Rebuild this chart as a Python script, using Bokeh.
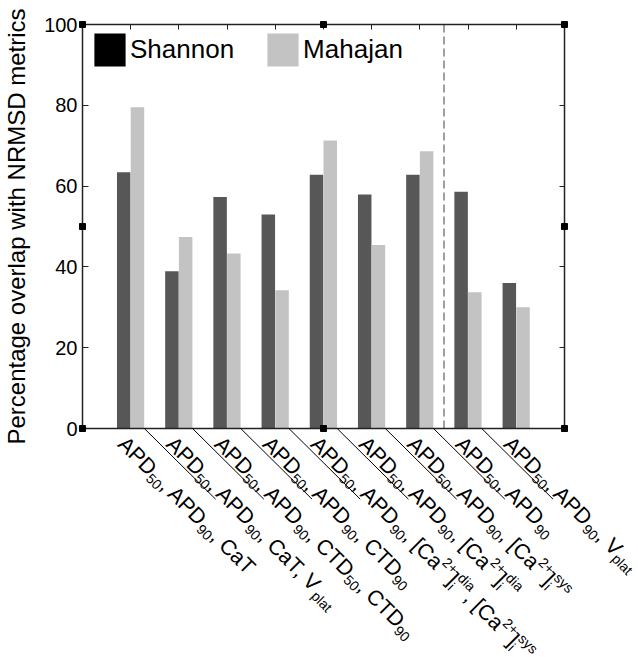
import math
from bokeh.plotting import figure
from bokeh.models import (Range1d, LinearAxis, FixedTicker, Legend, LegendItem,
                          ColumnDataSource, CustomJSTickFormatter)
from bokeh.embed import file_html
from bokeh.resources import INLINE
from bokeh.core.properties import value

# ---------------- data ----------------
categories = [
    "APD_{50}, APD_{90}, CaT",
    "APD_{50}, APD_{90}, CaT, V_{plat}",
    "APD_{50}, APD_{90}, CTD_{50}, CTD_{90}",
    "APD_{50}, APD_{90}, CTD_{90}",
    "APD_{50}, APD_{90}, [Ca^{2+}]_{i}^{dia}, [Ca^{2+}]_{i}^{sys}",
    "APD_{50}, APD_{90}, [Ca^{2+}]_{i}^{dia}",
    "APD_{50}, APD_{90}, [Ca^{2+}]_{i}^{sys}",
    "APD_{50}, APD_{90}",
    "APD_{50}, APD_{90}, V_{plat}",
]
shannon = [63.4, 38.9, 57.3, 53.0, 62.8, 57.9, 62.8, 58.6, 36.0]
mahajan = [79.5, 47.4, 43.3, 34.2, 71.3, 45.4, 68.6, 33.7, 30.0]
series_names = ["Shannon", "Mahajan"]
y_ticks = [0, 20, 40, 60, 80, 100]
divider = 7.5  # dashed separator between groups 7 and 8

# ---------------- layout ----------------
W, H = 638, 657
BL, BR, BT = 80, 74, 24
AXIS_Y = 428                # screen y of value 0
BB = H - AXIS_Y
FW = W - BL - BR
PX_Y = (AXIS_Y - BT) / 100.0
X_MAX = len(categories) + 1
PX_X = FW / X_MAX

FONT = "Liberation Sans"
DARK, LIGHT, LEG_DARK = "#575757", "#c3c3c3", "#000000"
AX = "#222222"

xs = list(range(1, len(categories) + 1))

p = figure(width=W, height=H, x_range=Range1d(0, X_MAX), y_range=Range1d(0, 100),
           output_backend="svg", toolbar_location=None, tools="",
           x_axis_location=None, y_axis_location=None,
           min_border_left=BL, min_border_right=BR, min_border_top=BT, min_border_bottom=BB)
p.outline_line_color = None
p.xgrid.visible = False
p.ygrid.visible = False
p.background_fill_color = "white"
p.border_fill_color = "white"

blank = CustomJSTickFormatter(code="return ''")


def style_axis(ax, tick_in):
    ax.major_tick_in = tick_in
    ax.major_tick_out = 0
    ax.minor_tick_line_color = None
    ax.axis_line_width = 1.5
    ax.axis_line_color = AX
    ax.major_tick_line_color = AX


# left axis
ly = LinearAxis(ticker=FixedTicker(ticks=y_ticks, minor_ticks=[]),
                axis_label="Percentage overlap with NRMSD metrics")
style_axis(ly, 6)
ly.major_label_standoff = 5
ly.major_label_text_font = FONT
ly.major_label_text_font_size = "20px"
ly.major_label_text_color = "black"
ly.axis_label_text_font = FONT
ly.axis_label_text_font_size = "24px"
ly.axis_label_text_font_style = "normal"
ly.axis_label_text_color = "black"
ly.axis_label_standoff = 11
p.add_layout(ly, "left")

# right axis
ry = LinearAxis(ticker=FixedTicker(ticks=y_ticks, minor_ticks=[]), formatter=blank)
style_axis(ry, 5)
ry.major_label_standoff = 0
p.add_layout(ry, "right")

# top axis
tx = LinearAxis(ticker=FixedTicker(ticks=xs, minor_ticks=[]), formatter=blank)
style_axis(tx, 5)
tx.major_label_standoff = 0
p.add_layout(tx, "above")

# bottom axis (line only)
bx = LinearAxis(ticker=FixedTicker(ticks=[], minor_ticks=[]), formatter=blank)
style_axis(bx, 0)
bx.major_label_standoff = 0
p.add_layout(bx, "below")

# bars
bw = 0.28
r_sh = p.vbar(x=[x - 0.145 for x in xs], top=shannon, width=bw, fill_color=DARK, line_color=None)
r_ma = p.vbar(x=[x + 0.14 for x in xs], top=mahajan, width=bw, fill_color=LIGHT, line_color=None)
# zero-height proxy used only for the (black) legend swatch
r_leg = p.vbar(x=[xs[0]], top=[0], bottom=[0], width=bw, fill_color=LEG_DARK, line_color=None)

# dashed divider
p.segment(x0=[divider], y0=[0], x1=[divider], y1=[100], line_color="#808080",
          line_width=1.5, line_dash="8 4")

# corner / midpoint markers of the axes box
mk_x = [0, 0, 0, X_MAX / 2, X_MAX / 2, X_MAX, X_MAX, X_MAX]
mk_y = [0, 50, 100, 0, 100, 0, 50, 100]
p.scatter(x=mk_x, y=mk_y, marker="square", size=6, color="black", level="overlay")

# legend
legend = Legend(items=[LegendItem(label=series_names[0], renderers=[r_leg]),
                       LegendItem(label=series_names[1], renderers=[r_ma])],
                location=(8, 358), orientation="horizontal")
legend.glyph_width = 39
legend.glyph_height = 41
legend.label_text_font = FONT
legend.label_text_font_size = "26px"
legend.label_text_color = "black"
legend.label_standoff = 1
legend.spacing = 29
legend.margin = 0
legend.padding = 0
legend.border_line_color = None
legend.background_fill_alpha = 0
p.add_layout(legend)

# ---------------- rotated category labels with sub/superscripts ----------------
S_N, S_S = 21.5, 14.0
SUB_V, SUP_V = -6.0, 8.0
WID = {'A': .667, 'P': .667, 'D': .722, 'C': .722, 'T': .611, 'V': .667, 'a': .556,
       ',': .278, ' ': .278, '[': .278, ']': .278, '+': .584, 'i': .222, 'd': .556,
       'l': .222, 'p': .556, 't': .278, 's': .5, 'y': .5}
for d in "0123456789":
    WID[d] = .556


def tw(t, size):
    return sum(WID.get(c, .556) for c in t) * size


def layout(label):
    segs, pen, buf, i = [], 0.0, "", 0
    while i < len(label):
        ch = label[i]
        if ch in "_^":
            if buf:
                segs.append((buf, "n", pen, 0.0)); pen += tw(buf, S_N); buf = ""
            mw = 0.0
            while i < len(label) and label[i] in "_^":
                kind = label[i]
                j = label.index("}", i)
                t = label[i + 2:j]
                segs.append((t, "s", pen, SUB_V if kind == "_" else SUP_V))
                mw = max(mw, tw(t, S_S))
                i = j + 1
            pen += mw
        else:
            buf += ch
            i += 1
    if buf:
        segs.append((buf, "n", pen, 0.0))
    return segs


C = math.cos(math.pi / 4)
DX0, DY0 = -9.0, 12.0  # start of each label relative to group centre / axis (px)
big = dict(x=[], y=[], text=[])
small = dict(x=[], y=[], text=[])
for gx, lab in zip(xs, categories):
    for t, kind, pen, v in layout(lab):
        sx = DX0 + (pen + v) * C
        sy = DY0 + (pen - v) * C
        tgt = big if kind == "n" else small
        tgt["x"].append(gx + sx / PX_X)
        tgt["y"].append(-sy / PX_Y)
        tgt["text"].append(t)

common = dict(angle=-math.pi / 4, text_font=value(FONT), text_align="left",
              text_baseline="alphabetic", text_color="black", level="overlay")
p.text(x="x", y="y", text="text", source=ColumnDataSource(big), text_font_size=f"{S_N}px", **common)
p.text(x="x", y="y", text="text", source=ColumnDataSource(small), text_font_size=f"{S_S}px", **common)

# thin separator strokes between labels
sep_dx0, sep_dx, sep_dy = 13.7, 71.6, 70.7
p.segment(x0=[g + sep_dx0 / PX_X for g in xs[:-1]], y0=[0] * (len(xs) - 1),
          x1=[g + (sep_dx0 + sep_dx) / PX_X for g in xs[:-1]],
          y1=[-sep_dy / PX_Y] * (len(xs) - 1), line_color="black", line_width=1,
          level="overlay")

open("out.html", "w").write(file_html(p, INLINE))
